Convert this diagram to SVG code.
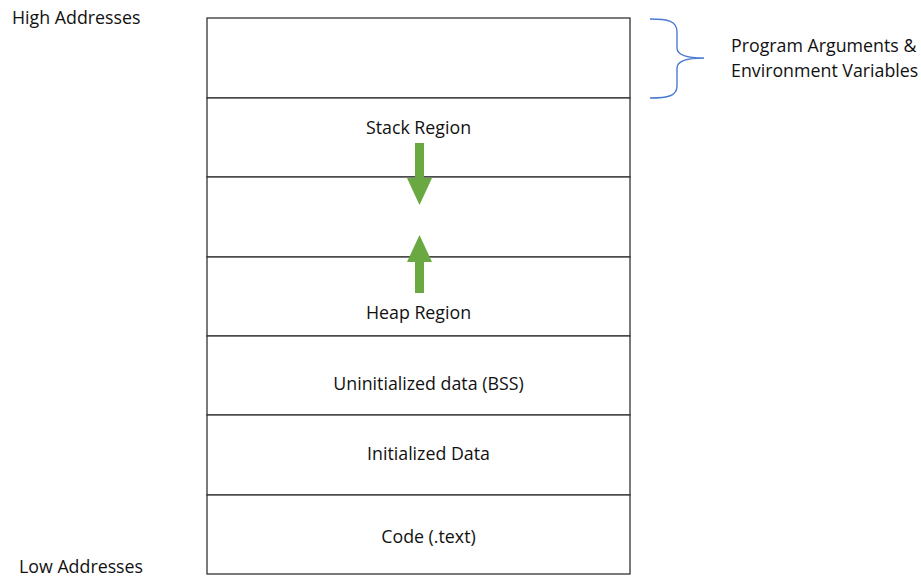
<svg xmlns="http://www.w3.org/2000/svg" width="921" height="579" viewBox="0 0 921 579">
<style>
text{font-family:"Open Sans","Liberation Sans",sans-serif;font-size:17.8px;fill:#111}
.c{text-anchor:middle}
.box{fill:#fff;stroke:#333;stroke-width:1.3}
.arr{fill:#6aa842}
</style>
<rect width="921" height="579" fill="#fff"/>
<text x="12" y="24">High Addresses</text>
<text x="19" y="573">Low Addresses</text>
<g id="args"><rect class="box" x="207" y="18" width="423" height="80"/></g>
<g id="stack"><rect class="box" x="207" y="98" width="423" height="79"/><text class="c" x="418.5" y="134">Stack Region</text></g>
<g id="free"><rect class="box" x="207" y="177" width="423" height="80"/></g>
<g id="heap"><rect class="box" x="207" y="257" width="423" height="79"/><text class="c" x="418.5" y="319">Heap Region</text></g>
<g id="bss"><rect class="box" x="207" y="336" width="423" height="79"/><text class="c" x="428.5" y="390">Uninitialized data (BSS)</text></g>
<g id="data"><rect class="box" x="207" y="415" width="423" height="80"/><text class="c" x="428.5" y="460">Initialized Data</text></g>
<g id="code"><rect class="box" x="207" y="495" width="423" height="79"/><text class="c" x="428.5" y="543">Code (.text)</text></g>
<g id="connectors">
<polygon class="arr" points="415,143 424,143 424,178 432,178 419.5,205 407,178 415,178"/>
<polygon class="arr" points="415,293 424,293 424,262 432,262 419.5,235 407,262 415,262"/>
<path d="M650,19 C668,19 677,21 677,32 L677,48 C677,55 688,58 704,58 C688,58 677,61 677,68 L677,86 C677,96 668,98 650,98" fill="none" stroke="#4a7bd0" stroke-width="1.4"/>
</g>
<g id="label"><text x="731" y="52">Program Arguments &amp;</text><text x="731" y="77">Environment Variables</text></g>
</svg>
